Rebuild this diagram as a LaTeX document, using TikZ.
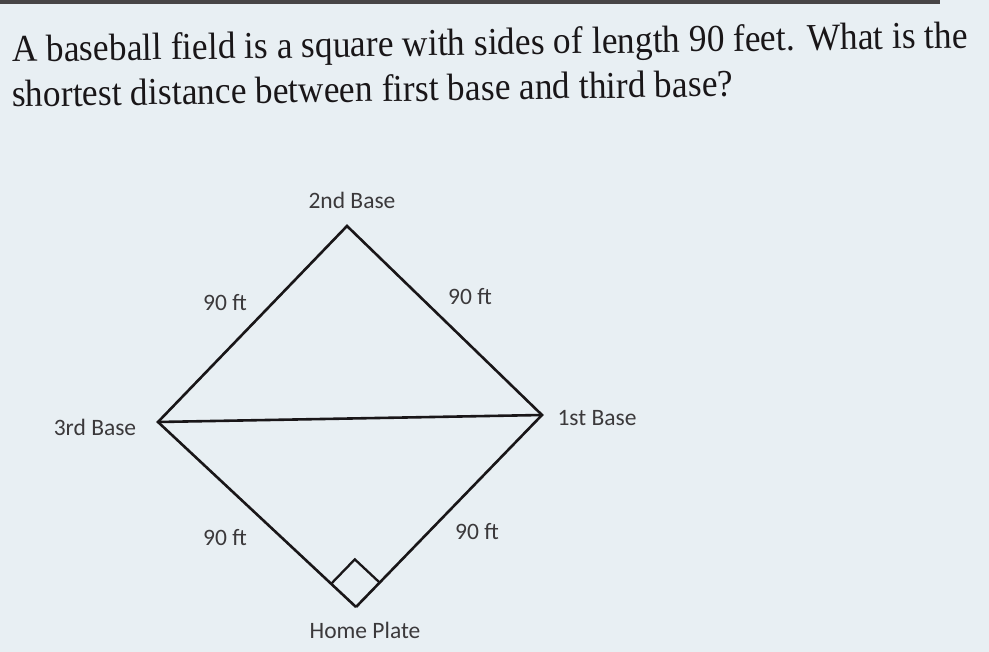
\documentclass[tikz,border=0pt]{standalone}
\usepackage{fontspec}
\setmainfont{Liberation Serif}
\newfontfamily\qfont[FakeStretch=0.93]{Liberation Serif}
\newfontfamily\lblfont{Carlito}
\usepackage{tikz}
\usetikzlibrary{positioning}
\usetikzlibrary{calc}
\definecolor{screen}{RGB}{232,239,243}
\definecolor{ink}{RGB}{25,22,24}
\tikzset{
  base_pt/.style = {inner sep=0pt, minimum size=0pt},% coin du terrain
  side/.style = {draw=ink, line width=2.6pt, line join=miter},
  lbl/.style = {font=\lblfont\fontsize{23.5}{26}\selectfont, text=ink!85,
    inner sep=0pt},
  question/.style = {font=\qfont\fontsize{38}{46}\selectfont, text=ink,
    inner sep=0pt, anchor=base west, rotate=0.85}
}

\begin{document}
\begin{tikzpicture}[x=1pt,y=-1pt]
\fill[screen] (0,0) rectangle (989,652);
\fill[ink!80] (0,0) rectangle (940,4);
\useasboundingbox (0,0) rectangle (989,652);

\node [question] (q1) at (12,62)
  {A baseball field is a square with sides of length 90 feet. What is the};
\node [question] (q2) at (12,107)
  {shortest distance between first base and third base?};

\node [base_pt] (second) at (347,226) {};
\node [base_pt] (third) at (158,422) {};
\node [base_pt] (first) at (542,415) {};
\node [base_pt] (home) at (356,607) {};

\draw [side] (home.center) -- (third.center) -- (second.center)
  -- (first.center) -- (home.center);
\draw [side] (third.center) -- (first.center);

% angle droit au marbre
\coordinate (hl) at ($(home)!34pt!(third)$);
\coordinate (hr) at ($(home)!34pt!(first)$);
\draw [side, line width=2.3pt] (hl) -- ($(hl)+(hr)-(home)$) -- (hr);

\node [lbl] at (second) [yshift=26pt,xshift=5pt] {2nd Base};
\node [lbl] at (third) [xshift=-63pt,yshift=-5pt] {3rd Base};
\node [lbl] at (first) [xshift=55pt,yshift=-3pt] {1st Base};
\node [lbl] at (home) [xshift=9pt,yshift=-23pt] {Home Plate};

\node [lbl] (s32) at (225,303) {90 ft};
\node [lbl] (s21) at (470,297) {90 ft};
\node [lbl] (s3h) at (225,538) {90 ft};
\node [lbl] (s1h) at (477,532) {90 ft};
\end{tikzpicture}
\end{document}
